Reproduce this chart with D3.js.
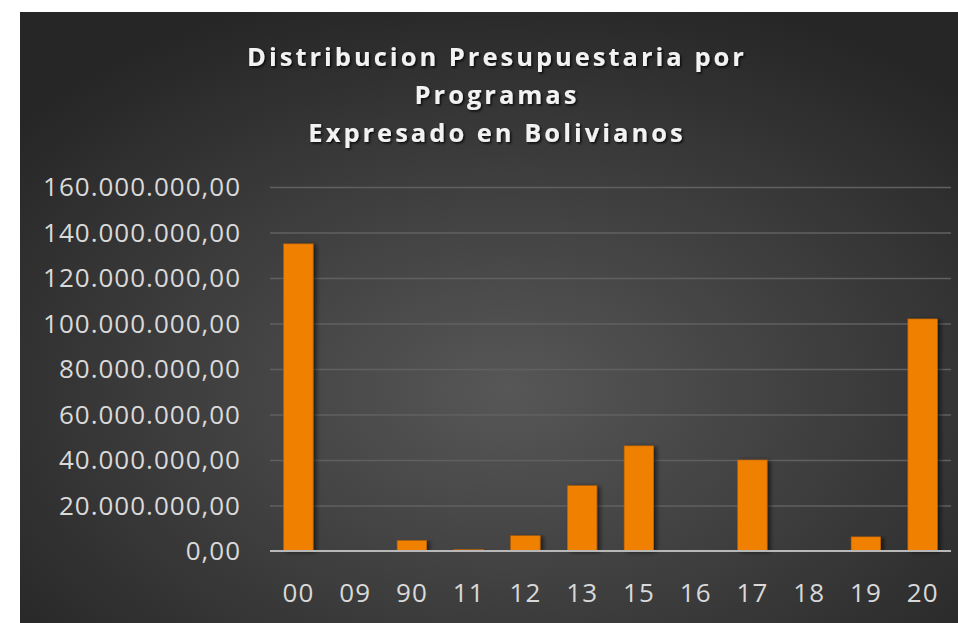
<!DOCTYPE html>
<html>
<head>
<meta charset="utf-8">
<script src="https://cdn.jsdelivr.net/npm/d3@7"></script>
<style>
  html, body { margin: 0; padding: 0; background: #ffffff; }
  svg { display: block; }
  text { font-family: "Open Sans", "Noto Sans", sans-serif; }
</style>
</head>
<body>
<svg id="chart" width="958" height="623"></svg>
<script>
const categories = ["00", "09", "90", "11", "12", "13", "15", "16", "17", "18", "19", "20"];
const values = [135000000, 150000, 4600000, 600000, 6700000, 28700000, 46200000, 100000, 40000000, 100000, 6200000, 102000000];
const titleLines = ["Distribucion Presupuestaria por", "Programas", "Expresado en Bolivianos"];
const yTickValues = [0, 20000000, 40000000, 60000000, 80000000, 100000000, 120000000, 140000000, 160000000];

const svg = d3.select("#chart");
const W = 958, H = 623;
const bg = { x: 20, y: 12, w: W - 20, h: H - 12 };
const plot = { left: 270, right: 951, top: 187, bottom: 551 };

const defs = svg.append("defs");
const grad = defs.append("radialGradient").attr("id", "bgGrad")
  .attr("cx", "52%").attr("cy", "62%").attr("r", "68%");
grad.append("stop").attr("offset", "0%").attr("stop-color", "#575757");
grad.append("stop").attr("offset", "100%").attr("stop-color", "#262626");

const shadow = defs.append("filter").attr("id", "barShadow")
  .attr("x", "-20%").attr("y", "-5%").attr("width", "160%").attr("height", "110%");
shadow.append("feDropShadow").attr("dx", 3).attr("dy", 1).attr("stdDeviation", 2)
  .attr("flood-color", "#000").attr("flood-opacity", 0.55);

const tshadow = defs.append("filter").attr("id", "textShadow")
  .attr("x", "-10%").attr("y", "-30%").attr("width", "120%").attr("height", "160%");
tshadow.append("feDropShadow").attr("dx", 1.5).attr("dy", 1.5).attr("stdDeviation", 1.2)
  .attr("flood-color", "#000").attr("flood-opacity", 0.8);

svg.append("rect").attr("x", bg.x).attr("y", bg.y).attr("width", bg.w).attr("height", bg.h)
  .attr("fill", "url(#bgGrad)");

const x = d3.scaleBand().domain(categories).range([plot.left, plot.right])
  .paddingInner(0.48).paddingOuter(0.24);
const y = d3.scaleLinear().domain([0, 160000000]).range([plot.bottom, plot.top]);

const locale = d3.formatLocale({ decimal: ",", thousands: ".", grouping: [3], currency: ["", ""] });
const fmt = locale.format(",.2f");

// gridlines
const grid = svg.append("g").attr("transform", `translate(${plot.left},0)`)
  .call(d3.axisLeft(y).tickValues(yTickValues.filter(v => v > 0)).tickSize(-(plot.right - plot.left)).tickFormat(""));
grid.select(".domain").remove();
grid.selectAll("line").attr("stroke", "#606060").attr("stroke-width", 1.4);

// y axis labels
const yAxis = svg.append("g").attr("transform", `translate(241,0)`)
  .call(d3.axisLeft(y).tickValues(yTickValues).tickSize(0).tickPadding(0).tickFormat(fmt));
yAxis.select(".domain").remove();
yAxis.selectAll("text").attr("fill", "#d9d9d9").style("font-size", "26px")
  .style("letter-spacing", "1px")
  .attr("dy", "0.34em");

// bars
svg.append("g").selectAll("rect").data(categories).join("rect")
  .attr("x", (d) => x(d))
  .attr("y", (d, i) => y(values[i]))
  .attr("width", x.bandwidth())
  .attr("height", (d, i) => y(0) - y(values[i]))
  .attr("fill", "#f08000")
  .attr("stroke", "#b85f00")
  .attr("stroke-width", 0.6)
  .attr("filter", "url(#barShadow)");

// baseline
svg.append("line").attr("x1", plot.left).attr("x2", plot.right)
  .attr("y1", y(0)).attr("y2", y(0))
  .attr("stroke", "#b8b8b8").attr("stroke-width", 2.2);

// x axis labels
const xAxis = svg.append("g").attr("transform", `translate(0,${y(0)})`)
  .call(d3.axisBottom(x).tickSize(0).tickPadding(0));
xAxis.select(".domain").remove();
xAxis.selectAll("text").attr("fill", "#d9d9d9").style("font-size", "26px")
  .style("letter-spacing", "1px")
  .attr("y", 42).attr("dy", "0.34em");

// title
const title = svg.append("g").attr("filter", "url(#textShadow)");
title.selectAll("text").data(titleLines).join("text")
  .attr("x", 497)
  .attr("y", (d, i) => 57 + i * 38)
  .attr("dy", "0.35em")
  .attr("text-anchor", "middle")
  .attr("fill", "#f2f2f2")
  .style("font-size", "25.5px")
  .style("font-weight", "700")
  .style("letter-spacing", "3px")
  .text(d => d);
</script>
</body>
</html>
